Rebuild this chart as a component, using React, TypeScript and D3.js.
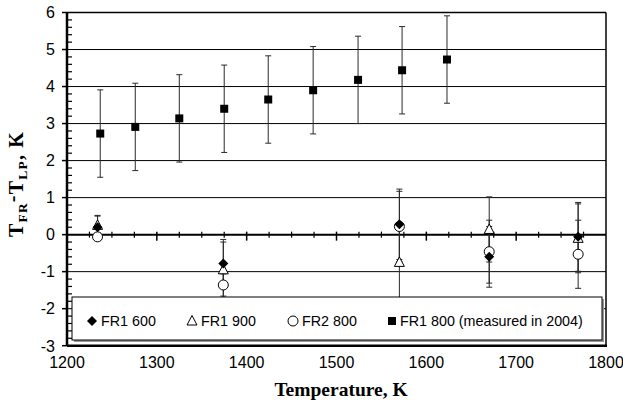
import React from 'react'
import * as d3 from 'd3'

// FR1 800 (measured in 2004)
const sqTemp = [1237, 1276, 1325, 1375, 1424, 1474, 1524, 1573, 1623]
const sqVal = [2.73, 2.91, 3.14, 3.4, 3.65, 3.9, 4.18, 4.44, 4.73]
const sqErr = [1.18, 1.18, 1.18, 1.18, 1.18, 1.18, 1.18, 1.18, 1.18]

// FR1 600, FR1 900, FR2 800
const frTemp = [1234, 1374, 1570, 1670, 1769]
const fr1600 = [0.2, -0.78, 0.28, -0.6, -0.06]
const fr1600Err = [0.32, 0.65, 0.95, 0.82, 0.93]
const fr1900 = [0.25, -0.95, -0.75, 0.14, -0.1]
const fr1900Err = [0.25, 0.75, 1.0, 0.88, 0.93]
const fr2800 = [-0.06, -1.36, 0.22, -0.46, -0.53]
const fr2800Err = [0.1, 0.3, 0.95, 0.85, 0.92]

const xTicks = [1200, 1300, 1400, 1500, 1600, 1700, 1800]
const yTicks = [-3, -2, -1, 0, 1, 2, 3, 4, 5, 6]

const legendLabels = ['FR1 600', 'FR1 900', 'FR2 800', 'FR1 800 (measured in 2004)']

const W = 623
const H = 401

export default function App() {
  const x = d3.scaleLinear().domain([1200, 1800]).range([67, 606])
  const y = d3.scaleLinear().domain([-3, 6]).range([345.7, 12.5])

  const minorX = d3.range(1200, 1801, 25).filter(v => v % 100 !== 0)
  const minorY = d3.range(-3, 6.001, 0.2).map(v => Math.round(v * 10) / 10).filter(v => Math.abs(v - Math.round(v)) > 0.01)

  const errBar = (t: number, v: number, e: number, key: string, cap = 3) => (
    <g key={key} stroke="#2a2a2a" strokeWidth={1}>
      <line x1={x(t)} x2={x(t)} y1={y(v + e)} y2={y(v - e)} />
      <line x1={x(t) - cap} x2={x(t) + cap} y1={y(v + e)} y2={y(v + e)} />
      <line x1={x(t) - cap} x2={x(t) + cap} y1={y(v - e)} y2={y(v - e)} />
    </g>
  )

  const diamond = (cx: number, cy: number, key: string) => (
    <path key={key} d={`M${cx},${cy - 5}L${cx + 5},${cy}L${cx},${cy + 5}L${cx - 5},${cy}Z`} fill="#000" />
  )
  const triangle = (cx: number, cy: number, key: string) => (
    <path key={key} d={`M${cx},${cy - 5.5}L${cx + 5},${cy + 4}L${cx - 5},${cy + 4}Z`} fill="#fff" stroke="#000" strokeWidth={1} />
  )
  const circle = (cx: number, cy: number, key: string) => (
    <circle key={key} cx={cx} cy={cy} r={5} fill="#fff" stroke="#000" strokeWidth={1} />
  )
  const square = (cx: number, cy: number, key: string) => (
    <rect key={key} x={cx - 4} y={cy - 4} width={8} height={8} fill="#000" />
  )

  const legendX = [92, 192, 293, 392]
  const legendMarkers = [diamond, triangle, circle, square]

  return (
    <svg width={W} height={H} style={{ position: 'absolute', left: 0, top: 0, background: '#fff' }} fontFamily="'Liberation Sans', Arial, sans-serif">
      {/* gridlines */}
      {yTicks.filter(v => v !== -3 && v !== 0).map(v => (
        <line key={'g' + v} x1={x(1200)} x2={x(1800)} y1={y(v)} y2={y(v)} stroke="#000" strokeWidth={1} />
      ))}
      {/* y axis ticks */}
      {yTicks.map(v => (
        <line key={'yt' + v} x1={x(1200) - 5} x2={x(1200)} y1={y(v)} y2={y(v)} stroke="#000" strokeWidth={1.5} />
      ))}
      {minorY.map(v => (
        <line key={'ym' + v} x1={x(1200)} x2={x(1200) + 5} y1={y(v)} y2={y(v)} stroke="#000" strokeWidth={1.2} />
      ))}
      {/* x axis at 0 */}
      <line x1={x(1200)} x2={x(1800)} y1={y(0)} y2={y(0)} stroke="#000" strokeWidth={2} />
      {minorX.map(v => (
        <line key={'xm' + v} x1={x(v)} x2={x(v)} y1={y(0) - 3} y2={y(0) + 3} stroke="#000" strokeWidth={1.2} />
      ))}
      {xTicks.slice(1, -1).map(v => (
        <line key={'xt' + v} x1={x(v)} x2={x(v)} y1={y(0) - 3} y2={y(0) + 6} stroke="#000" strokeWidth={1.5} />
      ))}
      {/* frame */}
      <line x1={x(1800)} x2={x(1800)} y1={y(6)} y2={y(-3)} stroke="#000" strokeWidth={1.5} />
      <line x1={x(1200)} x2={x(1800)} y1={y(6)} y2={y(6)} stroke="#000" strokeWidth={1.5} />
      <line x1={x(1200)} x2={x(1800) + 1} y1={y(-3)} y2={y(-3)} stroke="#000" strokeWidth={2.5} />
      <line x1={x(1200)} x2={x(1200)} y1={y(6)} y2={y(-3)} stroke="#000" strokeWidth={2.5} />

      {/* error bars */}
      {sqTemp.map((t, i) => errBar(t, sqVal[i], sqErr[i], 'se' + i))}
      {frTemp.map((t, i) => errBar(t, fr1900[i], fr1900Err[i], 'e9' + i))}
      {frTemp.map((t, i) => errBar(t, fr2800[i], fr2800Err[i], 'e8' + i))}
      {frTemp.map((t, i) => errBar(t, fr1600[i], fr1600Err[i], 'e6' + i))}

      {/* markers */}
      {sqTemp.map((t, i) => square(x(t), y(sqVal[i]), 'sq' + i))}
      {frTemp.map((t, i) => circle(x(t), y(fr2800[i]), 'c' + i))}
      {frTemp.map((t, i) => triangle(x(t), y(fr1900[i]), 't' + i))}
      {frTemp.map((t, i) => diamond(x(t), y(fr1600[i]), 'd' + i))}

      {/* legend */}
      <rect x={74} y={299} width={530} height={43} fill="#999" />
      <rect x={72} y={297} width={530} height={43} fill="#fff" stroke="#000" strokeWidth={1} />
      {legendLabels.map((l, i) => (
        <g key={'lg' + i}>
          {legendMarkers[i](legendX[i], 321, 'lm' + i)}
          <text x={legendX[i] + (i === 3 ? 8 : 9)} y={326} fontSize={14.3} fill="#000">{l}</text>
        </g>
      ))}

      {/* tick labels */}
      {yTicks.map(v => (
        <text key={'yl' + v} x={55} y={y(v) + 5.8} fontSize={16} textAnchor="end" fill="#000">{v}</text>
      ))}
      {xTicks.map(v => (
        <text key={'xl' + v} x={x(v)} y={368} fontSize={16} textAnchor="middle" fill="#000">{v}</text>
      ))}

      {/* axis titles */}
      <text x={341} y={396} fontSize={19.5} fontWeight="bold" textAnchor="middle" fontFamily="'Liberation Serif', 'Times New Roman', serif" fill="#000">Temperature, K</text>
      <text transform="translate(23,184) rotate(-90)" fontSize={20} fontWeight="bold" textAnchor="middle" letterSpacing={1.2} fontFamily="'Liberation Serif', 'Times New Roman', serif" fill="#000">
        T<tspan fontSize={13.5} dy={4}>FR</tspan><tspan dy={-8}>-</tspan><tspan dy={4}>T</tspan><tspan fontSize={13.5} dy={4}>LP</tspan><tspan dy={-4}>, K</tspan>
      </text>
    </svg>
  )
}
